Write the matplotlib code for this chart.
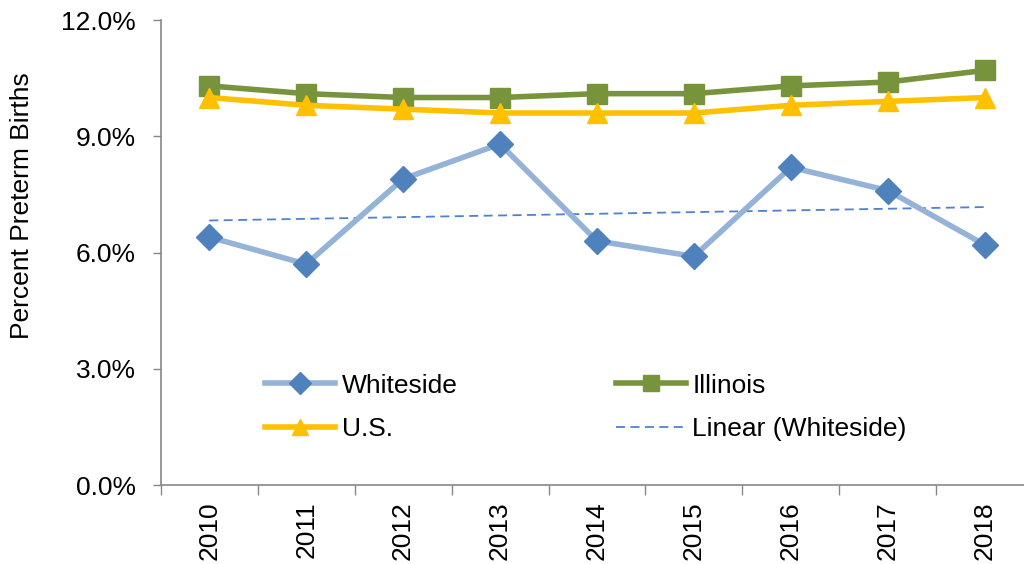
import numpy as np
import matplotlib.pyplot as plt
from matplotlib.ticker import FuncFormatter, FixedLocator

years = ["2010", "2011", "2012", "2013", "2014", "2015", "2016", "2017", "2018"]
whiteside = [6.4, 5.7, 7.9, 8.8, 6.3, 5.9, 8.2, 7.6, 6.2]
illinois = [10.3, 10.1, 10.0, 10.0, 10.1, 10.1, 10.3, 10.4, 10.7]
us = [10.0, 9.8, 9.7, 9.6, 9.6, 9.6, 9.8, 9.9, 10.0]

plt.rcParams['font.family'] = ['Liberation Sans', 'DejaVu Sans']
FS = 19

fig = plt.figure(figsize=(10.24, 5.64), dpi=100)
ax = fig.add_axes([0.157, 0.140, 0.852, 0.8245])

x = np.arange(len(years))

ax.plot(x, whiteside, color='#95B3D7', lw=4, marker='D', ms=13,
        mfc='#4F81BD', mec='#4F81BD', label='Whiteside', zorder=3)
ax.plot(x, illinois, color='#77933C', lw=4, marker='s', ms=14,
        mfc='#77933C', mec='#77933C', label='Illinois', zorder=3)
ax.plot(x, us, color='#FFC000', lw=4, marker='^', ms=14,
        mfc='#FFC000', mec='#FFC000', label='U.S.', zorder=3)

# least-squares trend of the county series
slope, intercept = np.polyfit(x, whiteside, 1)
ax.plot(x, slope * x + intercept, color='#4F81D0', lw=1.3, ls=(0, (5, 3)),
        label='Linear (Whiteside)', zorder=2)

ax.set_xlim(-0.5, len(years) - 0.5)
ax.set_ylim(0, 12)
ax.set_yticks([0, 3, 6, 9, 12])
ax.yaxis.set_major_formatter(FuncFormatter(lambda v, p: f"{v:.1f}%"))

ax.set_xticks(x)
ax.set_xticklabels(years, rotation=90)
ax.xaxis.set_minor_locator(FixedLocator(np.arange(-0.5, len(years), 1.0)))
ax.tick_params(axis='x', which='major', length=0, pad=12, labelsize=FS)
ax.tick_params(axis='x', which='minor', length=7, width=1, color='#878787',
               direction='out')
ax.tick_params(axis='y', length=6, width=1, color='#878787', direction='out',
               labelsize=FS, pad=12)

for side in ('top', 'right'):
    ax.spines[side].set_visible(False)
for side in ('left', 'bottom'):
    ax.spines[side].set_color('#878787')
    ax.spines[side].set_linewidth(1.2)

ax.set_ylabel('Percent Preterm Births', fontsize=FS)
ax.yaxis.set_label_coords(-0.145, 0.60)

handles, labels = ax.get_legend_handles_labels()
order = [0, 2, 1, 3]
leg = ax.legend([handles[i] for i in order], [labels[i] for i in order],
                ncol=2, frameon=False, fontsize=FS,
                loc='upper left', bbox_to_anchor=(0.246, 0.361),
                bbox_transform=fig.transFigure,
                handlelength=2.65, handletextpad=0.25, columnspacing=6.0,
                labelspacing=0.75, borderpad=0, markerscale=0.85)

fig.savefig('out.png', dpi=100)
